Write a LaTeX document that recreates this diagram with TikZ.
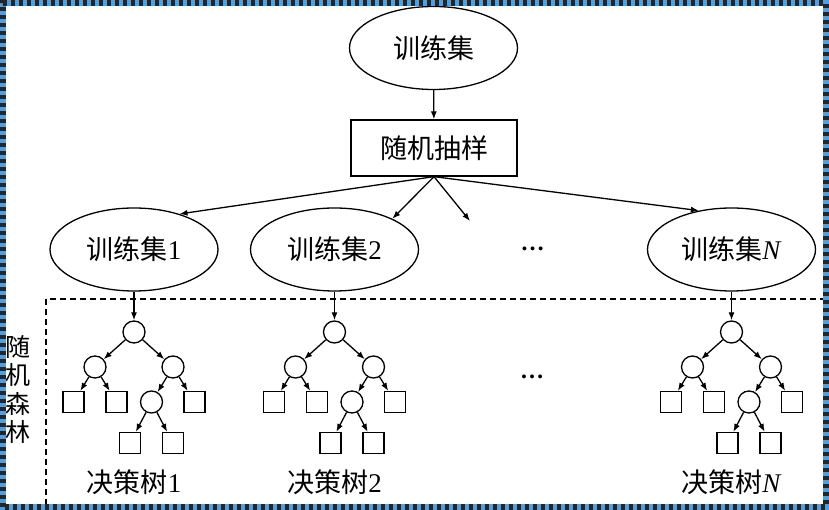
\documentclass[tikz,border=0pt]{standalone}
\usepackage{fontspec}
\setmainfont{Liberation Serif}
\newfontfamily\cjk{Noto Sans CJK SC}
\usetikzlibrary{shapes.geometric,arrows.meta}
\definecolor{frameblue}{RGB}{78,160,226}

\begin{document}
\begin{tikzpicture}[x=1pt, y=1pt, line width=1.3pt,
  set/.style={ellipse, draw, minimum width=168pt, minimum height=83pt, inner sep=0pt, font=\fontsize{27}{32}\selectfont},
  sample/.style={rectangle, draw, minimum width=166pt, minimum height=56pt, inner sep=0pt, font=\cjk\fontsize{27}{32}\selectfont},
  split/.style={circle, draw, minimum size=22pt, inner sep=0pt},
  leaf/.style={rectangle, draw, minimum size=21pt, inner sep=0pt},
  dots/.style={font=\bfseries\fontsize{24}{28}\selectfont, inner sep=0pt},
  treename/.style={font=\fontsize{27}{32}\selectfont, inner sep=0pt},
  arr/.style={-{Latex[length=8pt,width=6pt]}},
  level distance=35pt,
  level 1/.style={sibling distance=78pt},
  level 2/.style={sibling distance=43pt},
  level 3/.style={sibling distance=43pt, level distance=41pt},
  edge from parent/.style={draw, arr}]
\useasboundingbox (0,0) rectangle (829,510);

\node[set] (full) at (433.5,462) {{\cjk 训练集}};
\node[sample] (samp) at (434,362) {随机抽样};
\node[set] (set1) at (134,260.5) {{\cjk 训练集}1};
\node[set] (set2) at (334.5,260.5) {{\cjk 训练集}2};
\node[set] (setN) at (731.5,260.5) {{\cjk 训练集}\textit{N}};
\node[dots] (dots1) at (532.5,261) {…};
\coordinate (more) at (470,289);

\draw[arr] (full) -- (samp);
\draw[arr] (samp.south) -- (set1.38);
\draw[arr] (samp.south) -- (set2.28);
\draw[arr] (samp.south) -- (more);
\draw[arr] (samp.south) -- (setN.130);

% decision trees
\foreach \t/\x/\num in {1/134/1, 2/334.5/2, N/731.5/\textit{N}} {
  \node[split] (tree\t) at (\x,178) {}
    child { node[split] {}
      child { node[leaf] {} }
      child { node[leaf] {} }
    }
    child { node[split] {}
      child { node[split] {}
        child { node[leaf] {} }
        child { node[leaf] {} }
      }
      child { node[leaf] {} }
    };
  \node[treename] (name\t) at (\x,28) {{\cjk 决策树}\num};
  \draw[arr] (set\t) -- (tree\t);
}
\node[dots] (dots2) at (532,133) {…};

\node[font=\cjk\fontsize{25}{28.5}\selectfont, align=center, inner sep=0pt] (forest) at (18,120.5) {随\\机\\森\\林};
\draw[line width=1.1pt, dash pattern=on 6pt off 4pt] (46,211) rectangle (824,4);

% frame
\draw[frameblue, line width=6pt] (3,3) rectangle (826,507);
\draw[black!85, line width=6pt, dash pattern=on 4pt off 4pt] (3,3) rectangle (826,507);
\end{tikzpicture}
\end{document}
